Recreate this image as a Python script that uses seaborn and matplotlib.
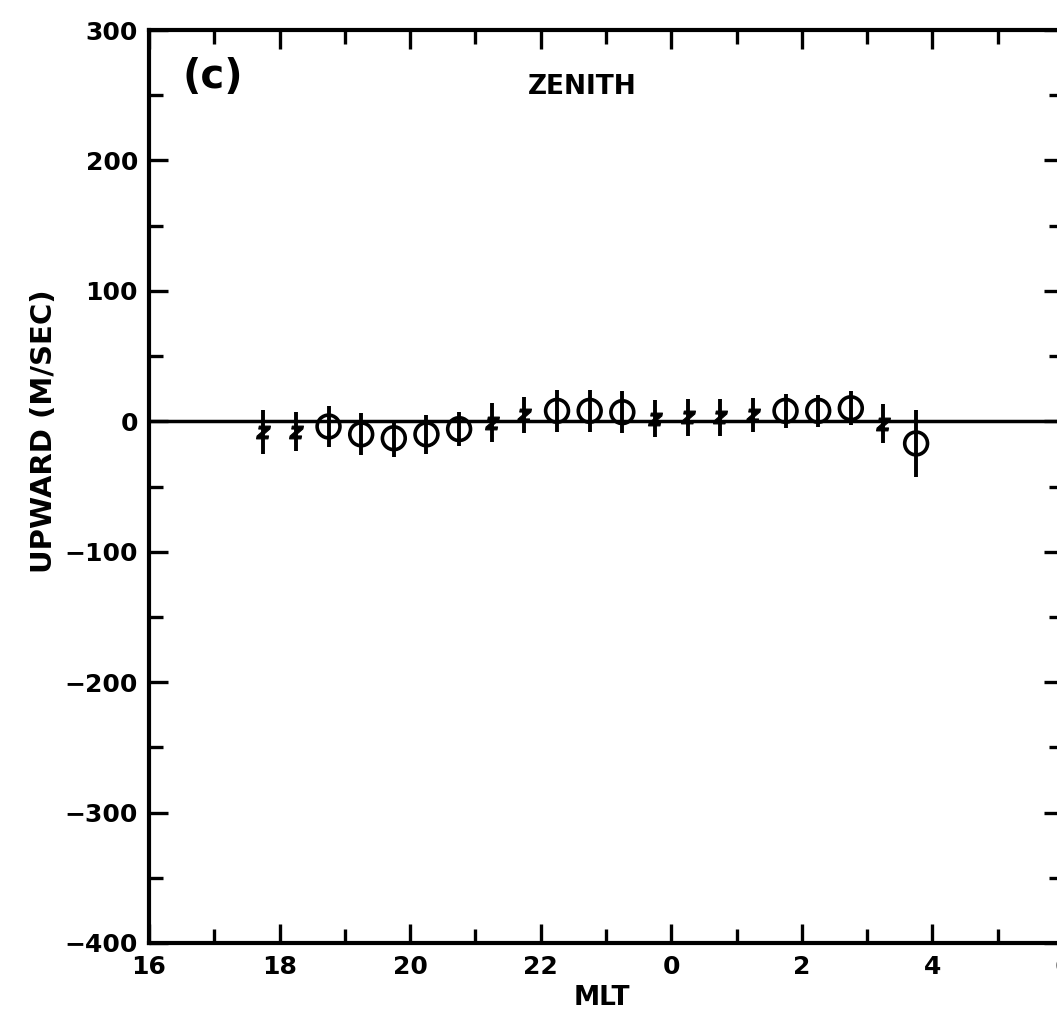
import pandas as pd
import matplotlib
matplotlib.use("Agg")
import matplotlib.pyplot as plt
import seaborn as sns

# MLT positions (hours, past midnight written as 24+)
mlt = [17.75, 18.25, 18.75, 19.25, 19.75, 20.25, 20.75, 21.25, 21.75, 22.25, 22.75,
       23.25, 23.75, 24.25, 24.75, 25.25, 25.75, 26.25, 26.75, 27.25, 27.75]
upward = [-8, -8, -4, -10, -13, -10, -6, -1, 5, 8, 8,
          7, 2, 3, 3, 5, 8, 8, 10, -2, -17]
err = [17, 15, 16, 16, 14, 15, 13, 15, 14, 16, 16,
       16, 14, 14, 14, 13, 13, 12, 13, 15, 26]
kind = ["z", "z", "o", "o", "o", "o", "o", "z", "z", "o", "o",
        "o", "z", "z", "z", "z", "o", "o", "o", "z", "o"]

x_ticks = [16, 18, 20, 22, 24, 26, 28, 30]
x_labels = ["16", "18", "20", "22", "0", "2", "4", "6"]
y_ticks = [-400, -300, -200, -100, 0, 100, 200, 300]

df = pd.DataFrame({"mlt": mlt, "upward": upward, "err": err, "kind": kind})

sns.set_style("ticks")
plt.rcParams["font.family"] = ["DejaVu Sans"]
plt.rcParams["font.weight"] = "bold"
plt.rcParams["text.color"] = "black"

fig = plt.figure(figsize=(10.57, 10.16), dpi=100)
ax = fig.add_axes([149 / 1057, 73 / 1016, 914 / 1057, 913 / 1016])

# zero line
ax.axhline(0, color="black", lw=2.5, zorder=1)

# error bars
ax.errorbar(df["mlt"], df["upward"], yerr=df["err"], fmt="none",
            ecolor="black", elinewidth=2.8, capsize=0, zorder=2)

circ = df[df["kind"] == "o"]
zz = df[df["kind"] == "z"]
sns.scatterplot(data=circ, x="mlt", y="upward", ax=ax, marker="o", s=270,
                facecolors="none", edgecolor="black", linewidth=2.6, zorder=3)
sns.scatterplot(data=zz, x="mlt", y="upward", ax=ax, marker="$z$", s=100,
                color="black", edgecolor="black", linewidth=0.8, zorder=3)

ax.set_xlim(16, 30)
ax.set_ylim(-400, 300)
ax.set_xticks(x_ticks, x_labels)
ax.set_xticks([17, 19, 21, 23, 25, 27, 29], minor=True)
ax.set_yticks(y_ticks, [str(v).replace("-", "\u2212") for v in y_ticks])
ax.set_yticks([-350, -250, -150, -50, 50, 150, 250], minor=True)

ax.tick_params(which="both", direction="in", top=True, right=True, width=2.4,
               labelsize=18, colors="black")
ax.tick_params(axis="x", pad=9)
ax.tick_params(axis="y", pad=8)
ax.tick_params(which="major", length=14)
ax.tick_params(which="minor", length=10)
for lab in ax.get_xticklabels() + ax.get_yticklabels():
    lab.set_fontweight("bold")
for sp in ax.spines.values():
    sp.set_linewidth(3)
    sp.set_color("black")

ax.set_xlabel("")
ax.set_ylabel("")
fig.text(602 / 1057, 1 - 998 / 1016, "MLT", fontsize=19, fontweight="bold",
         color="black", ha="center", va="center")
fig.text(44 / 1057, 1 - 431 / 1016, "UPWARD (M/SEC)", fontsize=21, fontweight="bold",
         color="black", rotation=90, ha="center", va="center")

ax.text(16.98, 264, "(c)", fontsize=29, fontweight="bold", color="black",
        ha="center", va="center")
ax.text(22.63, 256, "ZENITH", fontsize=19, fontweight="bold", color="black",
        ha="center", va="center")

fig.savefig("out.png", dpi=100)
